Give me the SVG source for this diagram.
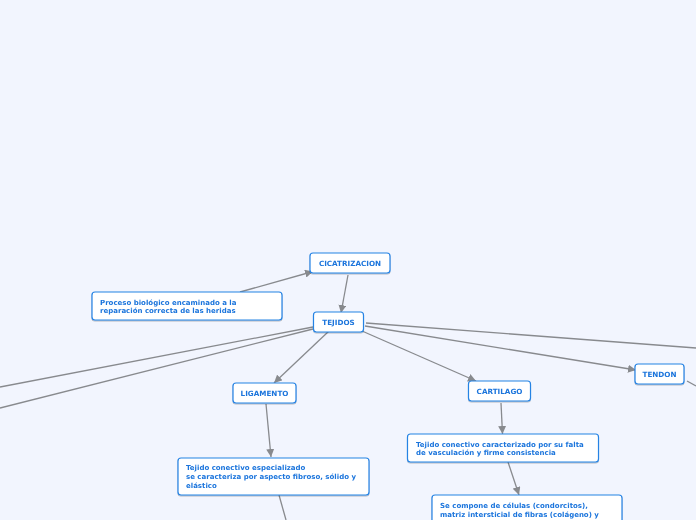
<svg xmlns="http://www.w3.org/2000/svg" width="696" height="520" viewBox="0 0 696 520">
<style>
.bg{fill:#f2f5fe}
.box{fill:#ffffff;stroke:#2583e4;stroke-width:1.2}
.t{font-family:"DejaVu Sans",Verdana,sans-serif;font-weight:bold;fill:#1a74dc;font-size:7px}
.c{text-anchor:middle;font-size:7.2px}
.ln{stroke:#888a8e;stroke-width:1.3;fill:none}
</style>
<defs>
<marker id="ar" markerUnits="userSpaceOnUse" markerWidth="9" markerHeight="8" refX="8" refY="4" orient="auto">
<path d="M0,0 L8,4 L0,8 Z" fill="#888a8e"/>
</marker>
<filter id="sh" x="-10%" y="-20%" width="120%" height="150%">
<feDropShadow dx="0" dy="1" stdDeviation="0.6" flood-color="#000" flood-opacity="0.25"/>
</filter>
</defs>
<rect class="bg" x="0" y="0" width="696" height="520"/>
<g id="connectors">
<line class="ln" x1="240" y1="292" x2="313" y2="271.5" marker-end="url(#ar)"/>
<line class="ln" x1="348" y1="275" x2="341" y2="313" marker-end="url(#ar)"/>
<line class="ln" x1="329" y1="331" x2="274" y2="383" marker-end="url(#ar)"/>
<line class="ln" x1="266" y1="404" x2="271" y2="457" marker-end="url(#ar)"/>
<line class="ln" x1="279" y1="495" x2="286" y2="520"/>
<line class="ln" x1="362" y1="331" x2="476" y2="381" marker-end="url(#ar)"/>
<line class="ln" x1="501" y1="403" x2="502.5" y2="434" marker-end="url(#ar)"/>
<line class="ln" x1="508" y1="462" x2="519" y2="495" marker-end="url(#ar)"/>
<line class="ln" x1="365" y1="326" x2="636" y2="370" marker-end="url(#ar)"/>
<line class="ln" x1="687" y1="381" x2="696" y2="386"/>
<line class="ln" x1="366" y1="323" x2="696" y2="348"/>
<line class="ln" x1="313" y1="327" x2="0" y2="387"/>
<line class="ln" x1="313" y1="329" x2="0" y2="408"/>
</g>
<g id="cicatrizacion" filter="url(#sh)">
<rect class="box" x="310" y="253" width="80" height="20" rx="3"/>
<text class="t c" x="350" y="265.5">CICATRIZACION</text>
</g>
<g id="proceso" filter="url(#sh)">
<rect class="box" x="92" y="292" width="190" height="28" rx="3"/>
<text class="t" x="100" y="304.5">Proceso biológico encaminado a la</text>
<text class="t" x="100" y="313">reparación correcta de las heridas</text>
</g>
<g id="tejidos" filter="url(#sh)">
<rect class="box" x="313.5" y="312" width="50" height="20" rx="3"/>
<text class="t c" x="338.5" y="324.5">TEJIDOS</text>
</g>
<g id="ligamento" filter="url(#sh)">
<rect class="box" x="233" y="383" width="63" height="20" rx="3"/>
<text class="t c" x="264.5" y="395.5">LIGAMENTO</text>
</g>
<g id="ligamento-desc" filter="url(#sh)">
<rect class="box" x="178" y="458" width="191" height="37" rx="3"/>
<text class="t" x="186" y="470">Tejido conectivo especializado</text>
<text class="t" x="186" y="479">se caracteriza por aspecto fibroso, sólido y</text>
<text class="t" x="186" y="487.5">elástico</text>
</g>
<g id="cartilago" filter="url(#sh)">
<rect class="box" x="468.5" y="381" width="62" height="20" rx="3"/>
<text class="t c" x="499.5" y="393.5">CARTILAGO</text>
</g>
<g id="cartilago-desc" filter="url(#sh)">
<rect class="box" x="407.5" y="434" width="191" height="28" rx="3"/>
<text class="t" x="416" y="446.5">Tejido conectivo caracterizado por su falta</text>
<text class="t" x="416" y="455">de vasculación y firme consistencia</text>
</g>
<g id="cartilago-comp" filter="url(#sh)">
<rect class="box" x="432" y="495" width="190" height="40" rx="3"/>
<text class="t" x="440" y="508">Se compone de células (condorcitos),</text>
<text class="t" x="440" y="516.5">matriz intersticial de fibras (colágeno) y</text>
</g>
<g id="tendon" filter="url(#sh)">
<rect class="box" x="635" y="364" width="49" height="20" rx="3"/>
<text class="t c" x="659.5" y="376.5">TENDON</text>
</g>
</svg>
